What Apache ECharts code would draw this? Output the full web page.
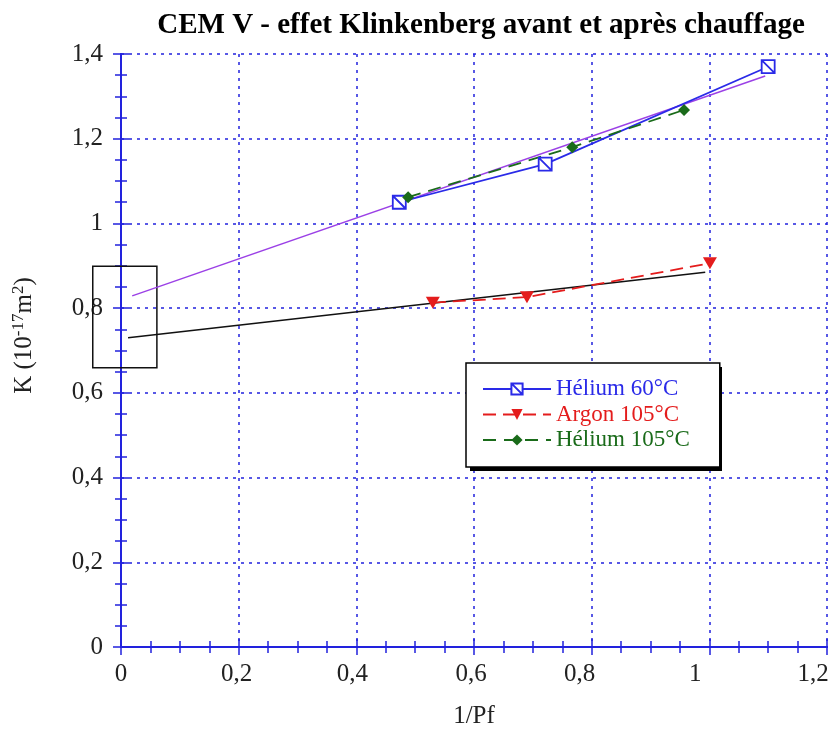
<!DOCTYPE html>
<html><head><meta charset="utf-8">
<script src="https://cdn.jsdelivr.net/npm/echarts@6/dist/echarts.min.js"></script>
<style>html,body{margin:0;padding:0;background:#fff}#c{width:831px;height:735px}</style>
</head><body><div id="c"></div>
<script>
const titleText = 'CEM V - effet Klinkenberg avant et après chauffage';
const helium60 = [[0.473, 1.050], [0.721, 1.140], [1.100, 1.370]];
const argon105 = [[0.530, 0.813], [0.690, 0.826], [1.001, 0.906]];
const helium105 = [[0.488, 1.062], [0.767, 1.180], [0.957, 1.268]];
const fitHelium = [[0.019, 0.829], [1.095, 1.348]];
const fitArgon = [[0.012, 0.730], [0.993, 0.885]];
const boxCorners = [[-0.048, 0.899, 0.061, 0.659]];
const seriesNames = ['Hélium 60°C', 'Argon 105°C', 'Hélium 105°C'];

const serif = '"Liberation Serif", "DejaVu Serif", serif';
const axisBlue = '#2222dd';
const chart = echarts.init(document.getElementById('c'));
const fmt = v => String(Math.round(v * 10) / 10).replace('.', ',');
// horizontal shift (px, leftwards) of x tick labels, as in the reference
const xShift = [0, 2, 4, 3, 12, 14, 14];
const fmtX = (v, i) => '{s' + xShift[i] + '|' + fmt(v) + '}';
const xRich = {};
xShift.forEach(s => { xRich['s' + s] = {fontFamily: serif, fontSize: 25, color: '#222', padding: [0, 2 * s, 0, 0]}; });
const gridLine = {show: true, lineStyle: {color: axisBlue, type: [3, 5], width: 1.5}};
const baseX = {type: 'value', min: 0, max: 1.2, interval: 0.2,
  axisLine: {show: true, lineStyle: {color: axisBlue, width: 2}},
  axisTick: {show: true, inside: true, length: 8, lineStyle: {color: axisBlue, width: 1.5}},
  minorTick: {show: true, splitNumber: 4, length: 6, lineStyle: {color: axisBlue, width: 1.5}},
  splitLine: gridLine};
const baseY = {type: 'value', min: 0, max: 1.4, interval: 0.2,
  axisLine: {show: true, lineStyle: {color: axisBlue, width: 2}},
  axisTick: {show: true, inside: true, length: 8, lineStyle: {color: axisBlue, width: 1.5}},
  minorTick: {show: true, splitNumber: 4, length: 6, lineStyle: {color: axisBlue, width: 1.5}},
  splitLine: gridLine};
chart.setOption({
  animation: false,
  title: {text: titleText, left: 476, textAlign: 'center', top: 6,
    textStyle: {fontFamily: serif, fontWeight: 'bold', fontSize: 29, color: '#000'}},
  grid: {left: 121, right: 4, top: 54, bottom: 88, containLabel: false, outerBoundsMode: 'none'},
  xAxis: [
    Object.assign({}, baseX, {position: 'bottom',
      axisLabel: {formatter: fmtX, rich: xRich, margin: 15, fontFamily: serif, fontSize: 25, color: '#222',
        showMaxLabel: true, showMinLabel: true},
      name: '1/Pf', nameLocation: 'middle', nameGap: 57,
      nameTextStyle: {fontFamily: serif, fontSize: 25, color: '#222'}}),
    Object.assign({}, baseX, {position: 'top', axisLabel: {show: false}, splitLine: {show: false}})
  ],
  yAxis: [
    Object.assign({}, baseY, {position: 'left',
      axisLabel: {formatter: fmt, margin: 18, fontFamily: serif, fontSize: 25, color: '#222'},
      name: 'K (10{s|-17}m{s|2})', nameLocation: 'middle', nameGap: 82, nameRotate: 90,
      nameTextStyle: {fontFamily: serif, fontSize: 25, color: '#222', padding: [0, 0, 0, 30],
        rich: {s: {fontFamily: serif, fontSize: 17, verticalAlign: 'top', padding: [0, 0, 12, 0], color: '#222'}}}}),
    Object.assign({}, baseY, {position: 'right', axisLabel: {show: false}, splitLine: {show: false}})
  ],
  graphic: [{type: 'rect', left: 470, top: 367, z: 9, shape: {width: 252, height: 104},
    style: {fill: '#000'}}],
  legend: {
    z: 10,
    orient: 'vertical', left: 466, top: 363,
    itemWidth: 68, itemHeight: 14, itemGap: 0.5,
    padding: [13.5, 30, 14.5, 16],
    backgroundColor: '#fff', borderColor: '#000', borderWidth: 1.5,
    textStyle: {fontFamily: serif, fontSize: 23, lineHeight: 25},
    data: [
      {name: seriesNames[0], textStyle: {color: '#2a2ae8'}},
      {name: seriesNames[1], textStyle: {color: '#e41c1c'}},
      {name: seriesNames[2], textStyle: {color: '#1a6b1a'}}
    ]
  },
  series: [
    {name: 'fitHe', type: 'line', data: fitHelium, showSymbol: false, silent: true,
      lineStyle: {color: '#9b40e6', width: 1.5}, z: 3},
    {name: 'fitAr', type: 'line', data: fitArgon, showSymbol: false, silent: true,
      lineStyle: {color: '#111', width: 1.5}, z: 3},
    {name: 'box', type: 'custom', data: boxCorners, clip: false, silent: true, z: 3,
      renderItem: function (params, api) {
        const p1 = api.coord([api.value(0), api.value(1)]);
        const p2 = api.coord([api.value(2), api.value(3)]);
        return {type: 'rect', shape: {x: p1[0], y: p1[1], width: p2[0] - p1[0], height: p2[1] - p1[1]},
          style: {fill: 'none', stroke: '#111', lineWidth: 1.5}};
      }},
    {name: seriesNames[0], type: 'line', data: helium60,
      symbol: 'path://M0,0 L10,0 L10,10 L0,10 Z M0,0 L10,10', symbolSize: 13,
      itemStyle: {color: '#fff', borderColor: '#2a2ae8', borderWidth: 1.8},
      lineStyle: {color: '#2a2ae8', width: 1.8}, z: 5},
    {name: seriesNames[1], type: 'line', data: argon105,
      symbol: 'triangle', symbolRotate: 180, symbolSize: [14, 12],
      itemStyle: {color: '#e41c1c'},
      lineStyle: {color: '#e41c1c', width: 1.8, type: [13, 7]}, z: 5},
    {name: seriesNames[2], type: 'line', data: helium105,
      symbol: 'diamond', symbolSize: 12,
      itemStyle: {color: '#1a6b1a'},
      lineStyle: {color: '#1a6b1a', width: 1.8, type: [13, 8]}, z: 5}
  ]
});
</script></body></html>
